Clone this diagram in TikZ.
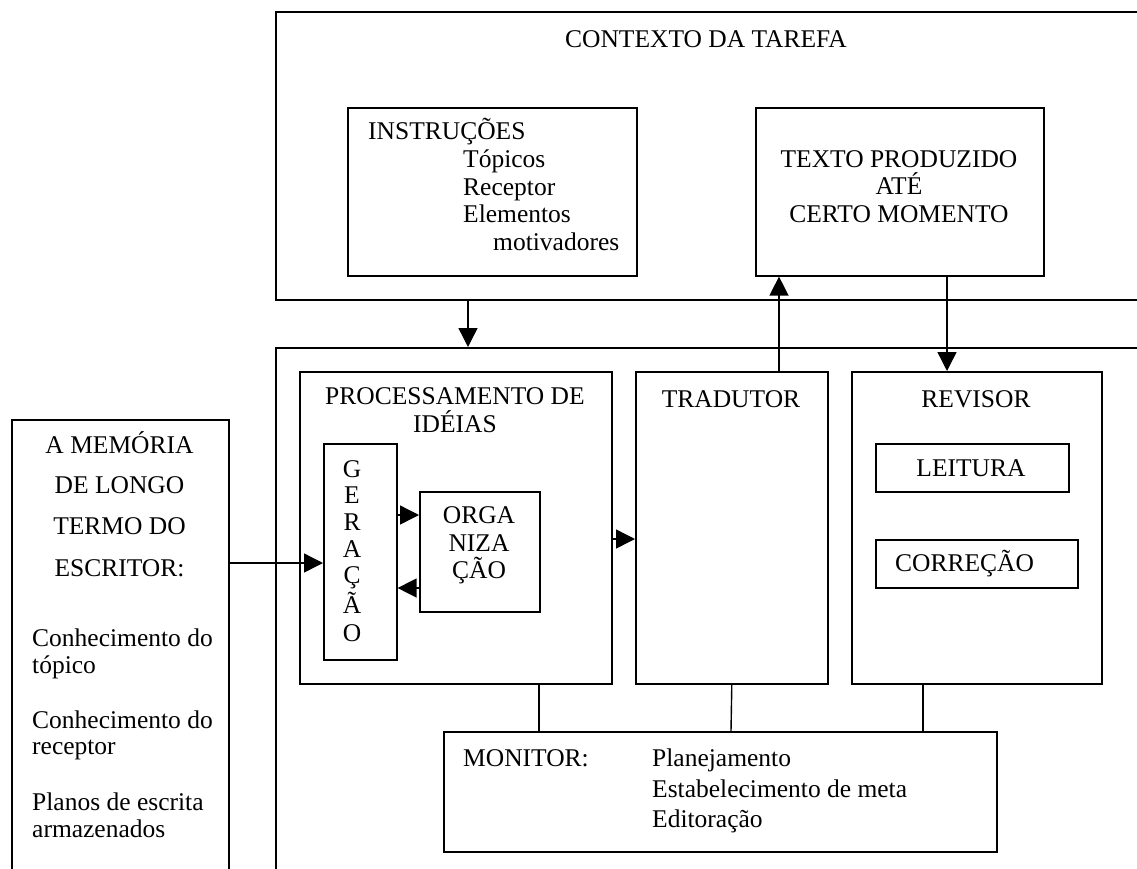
\documentclass[tikz,border=0pt]{standalone}
\usepackage{fontspec}
\setmainfont{Liberation Serif}
\usetikzlibrary{arrows.meta,calc}
\newcommand\fsz{\fontsize{25.5}{27}\selectfont}
\begin{document}
\begin{tikzpicture}[x=1pt,y=-1pt,
  box/.style={draw, line width=1.6pt, inner sep=0pt, anchor=north west},
  txt/.style={inner sep=0pt, font=\fsz},
  arr/.style={line width=1.4pt, -{Triangle[length=19pt,width=19pt]}},
  ln/.style={line width=1.4pt}]
\clip (0,0) rectangle (1137,868);
\fill[white] (0,0) rectangle (1137,868);
% boxes
\node[box, minimum width=875, minimum height=288] (ctx) at (275,11) {};
\node[box, minimum width=289, minimum height=168] (instr) at (347,107) {};
\node[box, minimum width=288, minimum height=168] (texto) at (755,107) {};
\node[box, minimum width=875, minimum height=560] (area) at (275,347) {};
\node[box, minimum width=312, minimum height=312] (proc) at (299,371) {};
\node[box, minimum width=192, minimum height=312] (trad) at (635,371) {};
\node[box, minimum width=250, minimum height=312] (rev) at (851,371) {};
\node[box, minimum width=73, minimum height=216] (ger) at (323,443) {};
\node[box, minimum width=120, minimum height=120] (org) at (419,491) {};
\node[box, minimum width=193, minimum height=48] (leit) at (875,443) {};
\node[box, minimum width=202, minimum height=48] (corr) at (875,539) {};
\node[box, minimum width=217, minimum height=500] (mem) at (11,419) {};
\node[box, minimum width=553, minimum height=120] (mon) at (443,731) {};
% connectors
\draw[arr] ([xshift=193pt]ctx.south west) -- ([xshift=193pt]area.north west);
\draw[arr] ([xshift=144pt]trad.north west) -- ([xshift=24pt]texto.south west);
\draw[arr] ([xshift=192pt]texto.south west) -- ([xshift=96pt]rev.north west);
\draw[arr] ([yshift=-144pt]mem.north east) -- ([yshift=-120pt]ger.north west);
\draw[arr] ([yshift=-72pt]ger.north east) -- ([yshift=-24pt]org.north west);
\draw[arr] ([yshift=-97pt]org.north west) -- ([yshift=-145pt]ger.north east);
\draw[arr] ([yshift=-168pt]proc.north east) -- ([yshift=-168pt]trad.north west);
\draw[ln] ([xshift=240pt]proc.south west) -- ([xshift=96pt]mon.north west);
\draw[ln] (trad.south) -- ([xshift=288pt]mon.north west);
\draw[ln] ([xshift=72pt]rev.south west) -- ([xshift=480pt]mon.north west);
% texts
\node[txt, anchor=base] (tctx) at (706,47) {CONTEXTO DA TAREFA};
\node[txt, anchor=base west] (ti1) at (368,139) {INSTRUÇÕES};
\node[txt, anchor=base west] (ti2) at (463,167) {Tópicos};
\node[txt, anchor=base west] (ti3) at (463,195) {Receptor};
\node[txt, anchor=base west] (ti4) at (463,222) {Elementos};
\node[txt, anchor=base west] (ti5) at (493,250) {motivadores};
\node[txt, anchor=base] (tt1) at (899,167) {TEXTO PRODUZIDO};
\node[txt, anchor=base] (tt2) at (899,194) {ATÉ};
\node[txt, anchor=base] (tt3) at (899,222) {CERTO MOMENTO};
\node[txt, anchor=base] (tp1) at (455,404) {PROCESSAMENTO DE};
\node[txt, anchor=base] (tp2) at (455,432) {IDÉIAS};
\node[txt, anchor=base] (tg1) at (352,477) {G};
\node[txt, anchor=base] (tg2) at (352,503) {E};
\node[txt, anchor=base] (tg3) at (352,530) {R};
\node[txt, anchor=base] (tg4) at (352,557) {A};
\node[txt, anchor=base] (tg5) at (352,583) {Ç};
\node[txt, anchor=base] (tg6) at (352,613) {Ã};
\node[txt, anchor=base] (tg7) at (352,641) {O};
\node[txt, anchor=base] (to1) at (479,523) {ORGA};
\node[txt, anchor=base] (to2) at (479,551) {NIZA};
\node[txt, anchor=base] (to3) at (479,578) {ÇÃO};
\node[txt, anchor=base] (ttr) at (731,407) {TRADUTOR};
\node[txt, anchor=base] (trv) at (976,407) {REVISOR};
\node[txt, anchor=base] (tle) at (971,476) {LEITURA};
\node[txt, anchor=base west] (tco) at (895,571) {CORREÇÃO};
\node[txt, anchor=base] (tm1) at (119.5,453) {A MEMÓRIA};
\node[txt, anchor=base] (tm2) at (119.5,493) {DE LONGO};
\node[txt, anchor=base] (tm3) at (119.5,534) {TERMO DO};
\node[txt, anchor=base] (tm4) at (119.5,576) {ESCRITOR:};
\node[txt, anchor=base west] (tm5) at (32,646) {Conhecimento do};
\node[txt, anchor=base west] (tm6) at (32,673) {tópico};
\node[txt, anchor=base west] (tm7) at (32,728) {Conhecimento do};
\node[txt, anchor=base west] (tm8) at (32,754) {receptor};
\node[txt, anchor=base west] (tm9) at (32,810) {Planos de escrita};
\node[txt, anchor=base west] (tm10) at (32,837) {armazenados};
\node[txt, anchor=base west] (tn1) at (463,766) {MONITOR:};
\node[txt, anchor=base west] (tn2) at (652,766) {Planejamento};
\node[txt, anchor=base west] (tn3) at (652,797) {Estabelecimento de meta};
\node[txt, anchor=base west] (tn4) at (652,827) {Editoração};
\end{tikzpicture}
\end{document}
